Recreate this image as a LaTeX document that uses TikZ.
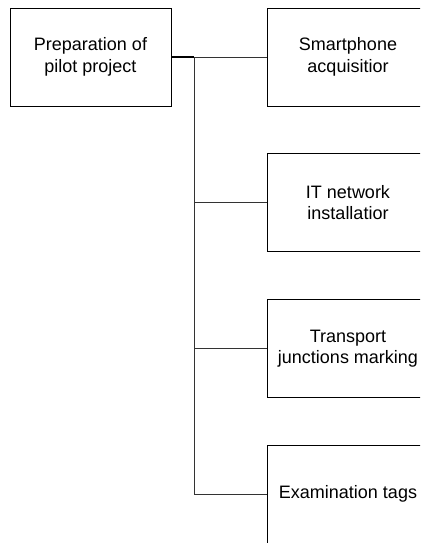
\documentclass[tikz,border=0pt]{standalone}
\usepackage{fontspec}
\setmainfont{Liberation Sans}
\usepackage{tikz}
\usetikzlibrary{positioning}

\tikzset{
    taskbox/.style={draw=black,line width=0.9pt,minimum width=162pt,minimum height=98pt,
        inner sep=0pt,align=center,font=\fontsize{18}{21.5}\selectfont},
    link/.style={line width=0.9pt,draw=black!80}
}

\begin{document}
\begin{tikzpicture}[x=1pt,y=-1pt]
    \useasboundingbox (0,0) rectangle (420,543);
    \clip (0,0) rectangle (420,543);
    % Root box
    \node[taskbox,minimum width=161pt] (prep) at (90.5,57) {\raisebox{3pt}{\begin{tabular}{@{}c@{}}Preparation of\\pilot project\end{tabular}}};
    % Task boxes
    \node[taskbox] (smart) at (348,57) {Smartphone\\acquisitior};
    \node[taskbox] (itnet) at (348,202.5) {IT network\\installatior};
    \node[taskbox] (trans) at (348,348.5) {Transport\\junctions marking};
    \node[taskbox] (exam) at (348,494) {Examination tags};
    % Branch lines
    \coordinate (trunk) at (194,57);
    \draw[line width=1.8pt] (prep.east) -- (trunk);
    \draw[link] (trunk) -- (smart.west);
    \draw[link] (trunk) -- (trunk |- exam.west) -- (exam.west);
    \draw[link] (trunk |- itnet.west) -- (itnet.west);
    \draw[link] (trunk |- trans.west) -- (trans.west);
\end{tikzpicture}
\end{document}
